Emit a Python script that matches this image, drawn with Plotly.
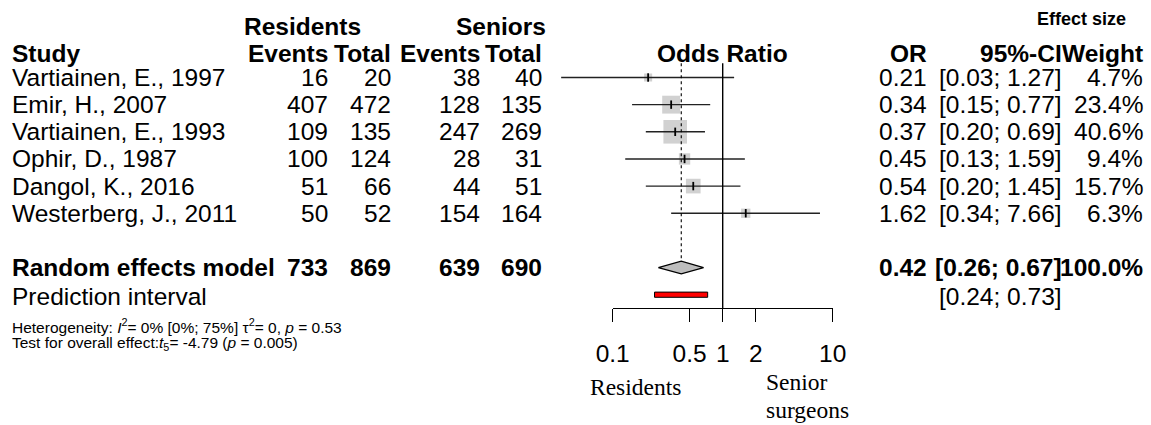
import plotly.graph_objects as go
import math

# ---------------- data ----------------
studies = ["Vartiainen, E., 1997", "Emir, H., 2007", "Vartiainen, E., 1993",
           "Ophir, D., 1987", "Dangol, K., 2016", "Westerberg, J., 2011"]
res_events = [16, 407, 109, 100, 51, 50]
res_total = [20, 472, 135, 124, 66, 52]
sen_events = [38, 128, 247, 28, 44, 154]
sen_total = [40, 135, 269, 31, 51, 164]
or_est = [0.21, 0.34, 0.37, 0.45, 0.54, 1.62]
ci_low = [0.034, 0.15, 0.20, 0.13, 0.20, 0.34]
ci_high = [1.27, 0.77, 0.69, 1.59, 1.45, 7.66]
weights = [4.7, 23.4, 40.6, 9.4, 15.7, 6.3]
ci_text = ["[0.03; 1.27]", "[0.15; 0.77]", "[0.20; 0.69]", "[0.13; 1.59]",
           "[0.20; 1.45]", "[0.34; 7.66]"]

re_label = "Random effects model"
re_totals = [733, 869, 639, 690]
re_est, re_low, re_high = 0.42, 0.26, 0.67
re_ci_text = "[0.26; 0.67]"
re_weight = "100.0%"
pi_low, pi_high = 0.24, 0.73
pi_text = "[0.24; 0.73]"

tick_vals = [0.1, 0.5, 1, 2, 10]
tick_text = ["0.1", "0.5", "1", "2", "10"]

# ---------------- layout helpers ----------------
W, H = 1151, 425
X0 = 722.7          # pixel of OR = 1
DEC = 110.0         # pixels per decade
ROW0, ROWH = 77.5, 27.15
SANS = "Liberation Sans, Arial, Helvetica, sans-serif"
SERIF = "Liberation Serif, Times New Roman, serif"
FS = 24.5
BLACK = "black"
GREY = "#bebebe"


def row_y(i):
    return ROW0 + ROWH * i


def px(xp):
    return xp / W


fig = go.Figure()

# study squares
ys = [row_y(i) for i in range(len(studies))]
fig.add_trace(go.Scatter(
    x=or_est, y=ys, mode="markers",
    marker=dict(symbol="square", color=GREY, size=[3.7 * math.sqrt(w) for w in weights],
                line=dict(width=0)),
    hoverinfo="skip", showlegend=False))

# CI lines
cx, cy = [], []
for lo, hi, y in zip(ci_low, ci_high, ys):
    cx += [lo, hi, None]
    cy += [y, y, None]
fig.add_trace(go.Scatter(x=cx, y=cy, mode="lines", line=dict(color="#222222", width=1.4),
                         hoverinfo="skip", showlegend=False))

# point tick marks
fig.add_trace(go.Scatter(
    x=or_est, y=ys, mode="markers",
    marker=dict(symbol="line-ns", size=6, line=dict(color=BLACK, width=1.8)),
    hoverinfo="skip", showlegend=False))

# reference line at OR = 1 and dotted line at pooled estimate
y_top = 63.3
y_axis = 308.3
y_re = row_y(7)
dh = 6.4
fig.add_trace(go.Scatter(x=[1, 1], y=[y_top, y_axis], mode="lines",
                         line=dict(color=BLACK, width=1.4), hoverinfo="skip", showlegend=False))
fig.add_trace(go.Scatter(x=[re_est, re_est], y=[y_top, y_re - dh], mode="lines",
                         line=dict(color=BLACK, width=1.1, dash="dot"), hoverinfo="skip",
                         showlegend=False))

# diamond
fig.add_trace(go.Scatter(
    x=[re_low, re_est, re_high, re_est, re_low],
    y=[y_re, y_re - dh, y_re, y_re + dh, y_re],
    mode="lines", fill="toself", fillcolor=GREY, line=dict(color=BLACK, width=1.2),
    hoverinfo="skip", showlegend=False))

# prediction interval bar
y_pi = row_y(8)
ph = 2.6
fig.add_trace(go.Scatter(
    x=[pi_low, pi_high, pi_high, pi_low, pi_low],
    y=[y_pi - ph, y_pi - ph, y_pi + ph, y_pi + ph, y_pi - ph],
    mode="lines", fill="toself", fillcolor="red", line=dict(color=BLACK, width=1),
    hoverinfo="skip", showlegend=False))

# invisible trace to keep second axis pair alive
fig.add_trace(go.Scatter(x=[1], y=[0.5], xaxis="x2", yaxis="y2", mode="markers",
                         marker=dict(opacity=0), hoverinfo="skip", showlegend=False))

ann = []


def T(text, x, y, anchor="left", size=FS, bold=False, family=SANS):
    if bold:
        text = "<b>" + text + "</b>"
    ann.append(dict(text=text, x=px(x), y=y, xref="paper", yref="y",
                    xanchor=anchor, yanchor="middle", showarrow=False,
                    font=dict(size=size, family=family, color=BLACK)))


# column x positions (pixels)
X_STUDY = 10
X_RE, X_RT, X_SE, X_ST = 330, 393, 482, 544
X_OR, X_CI, X_W = 929, 1064, 1145

# headers
yh1, yh2 = 26, 53.5
T("Residents", 242, yh1, bold=True)
T("Seniors", 548, yh1, anchor="right", bold=True)
T("Effect size", 1081, 19, anchor="center", size=18, bold=True)
T("Study", X_STUDY, yh2, bold=True)
T("Events", X_RE, yh2, anchor="right", bold=True)
T("Total", X_RT, yh2, anchor="right", bold=True)
T("Events", X_SE, yh2, anchor="right", bold=True)
T("Total", X_ST, yh2, anchor="right", bold=True)
T("Odds Ratio", 722, yh2, anchor="center", bold=True)
T("OR", X_OR, yh2, anchor="right", bold=True)
T("95%-CI", X_CI, yh2, anchor="right", bold=True)
T("Weight", X_W, yh2, anchor="right", bold=True)

# study rows
for i, s in enumerate(studies):
    y = row_y(i)
    T(s, X_STUDY, y)
    T(str(res_events[i]), X_RE, y, anchor="right")
    T(str(res_total[i]), X_RT, y, anchor="right")
    T(str(sen_events[i]), X_SE, y, anchor="right")
    T(str(sen_total[i]), X_ST, y, anchor="right")
    T(f"{or_est[i]:.2f}", X_OR, y, anchor="right")
    T(ci_text[i], X_CI, y, anchor="right")
    T(f"{weights[i]:.1f}%", X_W, y, anchor="right")

# pooled row
T(re_label, X_STUDY, y_re, bold=True)
for v, xx in zip(re_totals, [X_RE, X_RT, X_SE, X_ST]):
    T(str(v), xx, y_re, anchor="right", bold=True)
T(f"{re_est:.2f}", X_OR, y_re, anchor="right", bold=True)
T(re_ci_text, X_CI, y_re, anchor="right", bold=True)
T(re_weight, X_W, y_re, anchor="right", bold=True)

# prediction interval row
T("Prediction interval", X_STUDY, y_pi + 2)
T(pi_text, X_CI, y_pi + 2, anchor="right")

# heterogeneity and test
T("Heterogeneity: <i>I</i><sup>2</sup>= 0% [0%; 75%] τ<sup>2</sup>= 0, <i>p</i> = 0.53",
  X_STUDY, 326, size=15.5)
T("Test for overall effect:<i>t</i><sub>5</sub>= -4.79 (<i>p</i> = 0.005)",
  X_STUDY, 343, size=15.5)

# bottom labels
T("Residents", 588, 387, size=23.5, family=SERIF)
T("Senior", 764, 382, size=23.5, family=SERIF)
T("surgeons", 764, 410, size=23.5, family=SERIF)

fig.update_layout(
    width=W, height=H,
    margin=dict(l=0, r=0, t=0, b=0, pad=0, autoexpand=False),
    paper_bgcolor="white", plot_bgcolor="rgba(0,0,0,0)",
    xaxis=dict(type="log", domain=[0, 1], range=[-X0 / DEC, (W - X0) / DEC],
               visible=False, fixedrange=True, automargin=False),
    yaxis=dict(domain=[0, 1], range=[H, 0], visible=False, fixedrange=True,
               automargin=False),
    xaxis2=dict(type="log", domain=[px(X0 - DEC), px(X0 + DEC)], range=[-1, 1],
                anchor="y2", side="bottom", showline=True, linecolor=BLACK, linewidth=1.3,
                ticks="outside", ticklen=13, tickwidth=1.3, tickcolor=BLACK,
                tickvals=tick_vals, ticktext=tick_text, ticklabelstandoff=10,
                tickfont=dict(size=FS, family=SANS, color=BLACK),
                showgrid=False, zeroline=False, fixedrange=True, automargin=False),
    yaxis2=dict(domain=[(H - y_axis) / H, 1], range=[0, 1], anchor="x2",
                visible=False, fixedrange=True, automargin=False),
    annotations=ann,
    showlegend=False,
)

fig.write_html("out.html")
